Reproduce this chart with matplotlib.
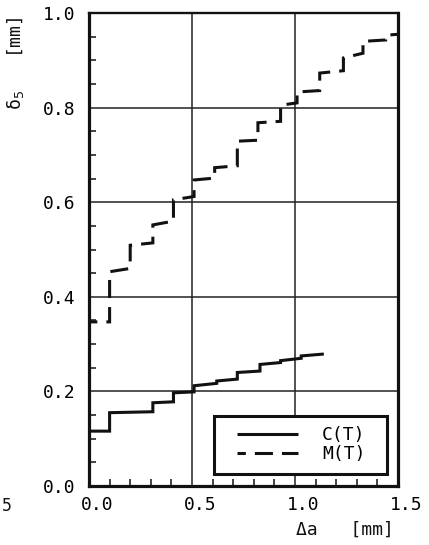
import matplotlib
matplotlib.use("Agg")
import matplotlib.pyplot as plt
import matplotlib.transforms as mtransforms
from matplotlib.legend_handler import HandlerLine2D
from matplotlib.ticker import MultipleLocator, FixedLocator
import numpy as np

plt.rcParams['font.family'] = ['DejaVu Sans Mono', 'DejaVu Sans']
plt.rcParams['mathtext.fontset'] = 'dejavusans'
plt.rcParams['lines.scale_dashes'] = False

# ---- data -------------------------------------------------------------
# C(T): step edges (Δa, mm) and tread start/end values (δ5, mm)
c_edges = [0.0, 0.10, 0.31, 0.41, 0.51, 0.62, 0.72, 0.83, 0.93, 1.03, 1.14]
c_start = [0.116, 0.155, 0.176, 0.197, 0.212, 0.222, 0.240, 0.257, 0.265, 0.275]
c_end   = [0.116, 0.157, 0.178, 0.199, 0.217, 0.226, 0.243, 0.261, 0.270, 0.279]

# M(T)
m_edges = [0.0, 0.10, 0.20, 0.31, 0.41, 0.51, 0.61, 0.72, 0.82, 0.93,
           1.01, 1.12, 1.235, 1.33, 1.44, 1.50]
m_start = [0.347, 0.453, 0.509, 0.552, 0.605, 0.647, 0.673, 0.729, 0.768,
           0.805, 0.833, 0.873, 0.905, 0.940, 0.953]
m_end   = [0.347, 0.460, 0.514, 0.560, 0.612, 0.651, 0.677, 0.731, 0.771,
           0.810, 0.836, 0.878, 0.915, 0.943, 0.955]

labels = ["C(T)", "M(T)"]
x_ticks = [0.0, 0.5, 1.0, 1.5]
x_ticklabels = ["0.0", "0.5", "1.0", "1.5"]
y_ticks = [0.0, 0.2, 0.4, 0.6, 0.8, 1.0]
y_ticklabels = ["0.0", "0.2", "0.4", "0.6", "0.8", "1.0"]


def stair(edges, start, end):
    xs, ys = [], []
    for i in range(len(start)):
        xs += [edges[i], edges[i + 1]]
        ys += [start[i], end[i]]
    return xs, ys


# ---- figure -----------------------------------------------------------
W, H = 429, 545
fig = plt.figure(figsize=(W / 100, H / 100), dpi=100)
ax = fig.add_axes([89 / W, 1 - 486 / H, (398 - 89) / W, (486 - 13) / H])
ax.set_xlim(0, 1.5)
ax.set_ylim(0, 1.0)

ink = '#111111'
cx, cy = stair(c_edges, c_start, c_end)
mx, my = stair(m_edges, m_start, m_end)
lc, = ax.plot(cx, cy, color=ink, lw=2.2, solid_joinstyle='miter',
              solid_capstyle='butt', label=labels[0], zorder=3)
lm, = ax.plot(mx, my, color=ink, lw=2.2, linestyle=(7, (13, 6.5)),
              dash_joinstyle='miter', dash_capstyle='butt',
              label=labels[1], zorder=3, clip_on=True)

# grid
ax.xaxis.set_major_locator(FixedLocator(x_ticks))
ax.yaxis.set_major_locator(FixedLocator(y_ticks))
ax.xaxis.set_minor_locator(MultipleLocator(0.1))
ax.yaxis.set_minor_locator(MultipleLocator(0.05))
ax.grid(True, which='major', color='#222222', lw=1.1)
ax.set_axisbelow(True)

ax.set_xticklabels(x_ticklabels)
ax.set_yticklabels(y_ticklabels)
ax.tick_params(which='both', direction='in', top=False, right=False,
               width=1.1, color=ink)
ax.tick_params(which='major', length=0)
ax.tick_params(which='minor', length=5)
ax.tick_params(axis='y', which='major', pad=10, labelsize=13)
ax.tick_params(axis='x', which='major', pad=7, labelsize=13)

# shift x tick labels a bit to the right (plotter style)
offset = mtransforms.ScaledTranslation(8 / 100, 0, fig.dpi_scale_trans)
for lab in ax.get_xticklabels():
    lab.set_transform(lab.get_transform() + offset)

for side in ['left', 'bottom', 'right']:
    ax.spines[side].set_linewidth(2.3)
    ax.spines[side].set_color(ink)
ax.spines['top'].set_linewidth(1.7)
ax.spines['top'].set_color(ink)

# legend
leg = ax.legend(handles=[lc, lm], loc='lower left',
                bbox_to_anchor=(0.405, 0.025, 0.559, 0.134), mode='expand',
                borderaxespad=0, fancybox=False, framealpha=1,
                edgecolor=ink, prop={'size': 13}, handlelength=4.73,
                handletextpad=0.65, borderpad=0.6, labelspacing=0.05,
                numpoints=2,
                handler_map={lc: HandlerLine2D(marker_pad=0.68),
                             lm: HandlerLine2D(marker_pad=0.68)})
leg.get_frame().set_linewidth(2.2)
leg.set_zorder(5)

# axis labels (placed as in the reference)
fig.text(345 / W, 1 - 530 / H, "Δa   [mm]", ha='center', va='center',
         fontsize=13, color=ink)
fig.text(15 / W, 1 - 63 / H, r"δ$_5$   [mm]", ha='center', va='center',
         rotation=90, fontsize=13, color=ink)
# fragment of neighbouring panel's tick label
fig.text(1.5 / W, 1 - 506 / H, "5", ha='left', va='center',
         fontsize=12, color=ink)

fig.savefig("out.png", dpi=100)
